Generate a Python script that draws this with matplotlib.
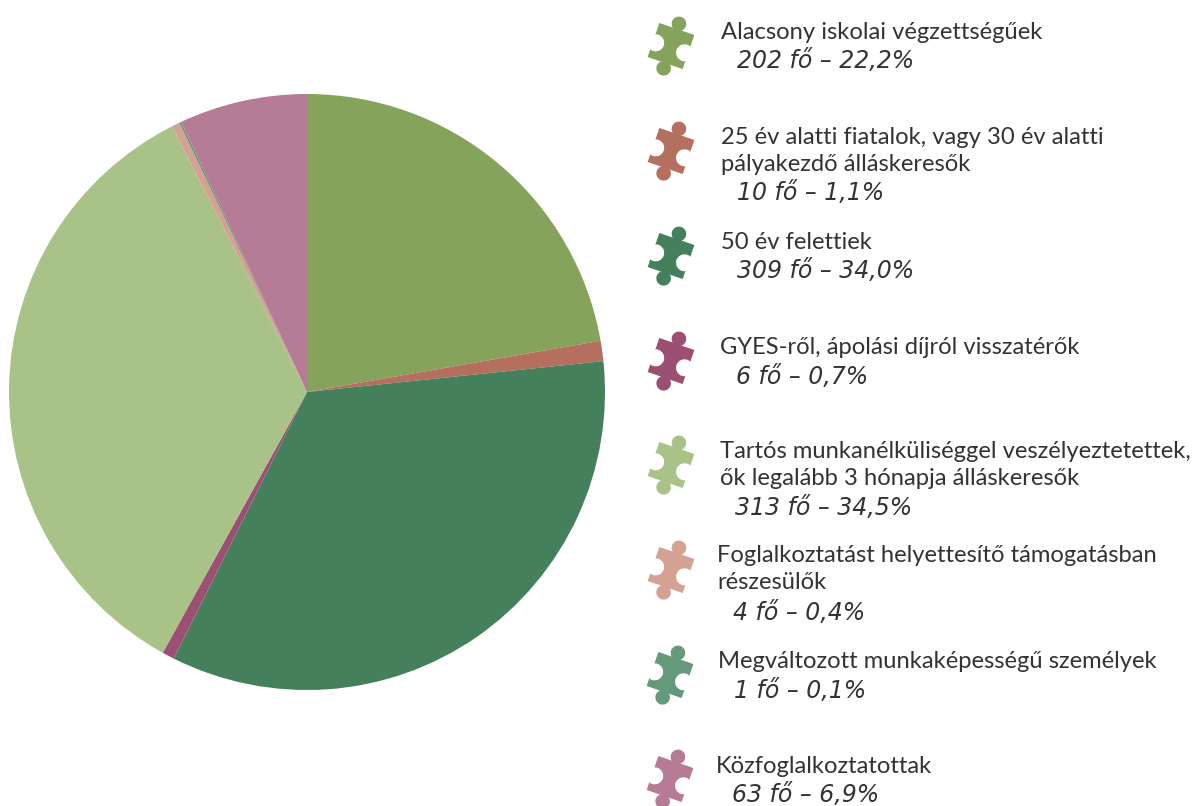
import matplotlib
matplotlib.use('Agg')
import matplotlib.pyplot as plt
from matplotlib.patches import Circle, Polygon
from matplotlib.transforms import Affine2D

plt.rcParams['font.family'] = ['Lato', 'DejaVu Sans']

groups = [
    ['Alacsony iskolai végzettségűek'],
    ['25 év alatti fiatalok, vagy 30 év alatti', 'pályakezdő álláskeresők'],
    ['50 év felettiek'],
    ['GYES-ről, ápolási díjról visszatérők'],
    ['Tartós munkanélküliséggel veszélyeztetettek,', 'ők legalább 3 hónapja álláskeresők'],
    ['Foglalkoztatást helyettesítő támogatásban', 'részesülők'],
    ['Megváltozott munkaképességű személyek'],
    ['Közfoglalkoztatottak'],
]
counts = [202, 10, 309, 6, 313, 4, 1, 63]
shares = ['22,2', '1,1', '34,0', '0,7', '34,5', '0,4', '0,1', '6,9']
colors = ['#85a35b', '#b56f5f', '#44805b', '#9b4f73', '#a9c287', '#d5a193', '#64997b', '#b67b95']

# legend layout in pixels, top of image = 0, y values are baselines
icon_x = [671, 671, 671, 671, 671, 671, 670, 670]
icon_y = [46, 151, 256, 361, 465, 570, 675, 779]
text_x = [721, 721, 721, 720, 720, 717, 718, 716]
text_y = [39, 144, 249, 354, 458, 562, 668, 773]
sub_x = [737, 737, 737, 736, 735, 733, 734, 732]
sub_y = [68, 200, 278, 384, 515, 620, 698, 802]
line_h = 27

W, H = 1192, 806
fig = plt.figure(figsize=(W / 100, H / 100), dpi=100)

# pie centre 307,392 radius 298
ax = fig.add_axes([(307 - 298) / W, 1 - (392 + 298) / H, 596 / W, 596 / H])
ax.pie(counts, colors=colors, startangle=90, counterclock=False, radius=1,
       wedgeprops={'linewidth': 0})
ax.set_xlim(-1, 1)
ax.set_ylim(-1, 1)

over = fig.add_axes([0, 0, 1, 1])
over.set_xlim(0, W)
over.set_ylim(H, 0)
over.axis('off')
over.patch.set_alpha(0)


def puzzle(x, y, color):
    # piece relative to the icon centre, turned about 19 degrees
    t = Affine2D().rotate_deg(19).translate(x, y) + over.transData
    over.add_patch(Polygon([(-18.5, -18), (18.5, -18), (18.5, 18), (-18.5, 18)], fc=color, ec='none', transform=t))
    over.add_patch(Circle((0.3, -23.5), 7.3, fc=color, ec='none', transform=t))
    over.add_patch(Circle((0.3, 23.5), 7.3, fc=color, ec='none', transform=t))
    over.add_patch(Circle((-15.5, 2), 8.5, fc='white', ec='none', transform=t))
    over.add_patch(Circle((15, 2), 8.5, fc='white', ec='none', transform=t))


for i in range(len(groups)):
    puzzle(icon_x[i], icon_y[i], colors[i])
    for k, line in enumerate(groups[i]):
        over.text(text_x[i], text_y[i] + k * line_h, line, fontsize=17.1, color='#333333',
                  va='baseline')
    over.text(sub_x[i], sub_y[i], f'{counts[i]} fő – {shares[i]}%', fontsize=17,
              family='DejaVu Sans', style='italic', color='#333333', va='baseline')

fig.savefig('out.png', dpi=100)
